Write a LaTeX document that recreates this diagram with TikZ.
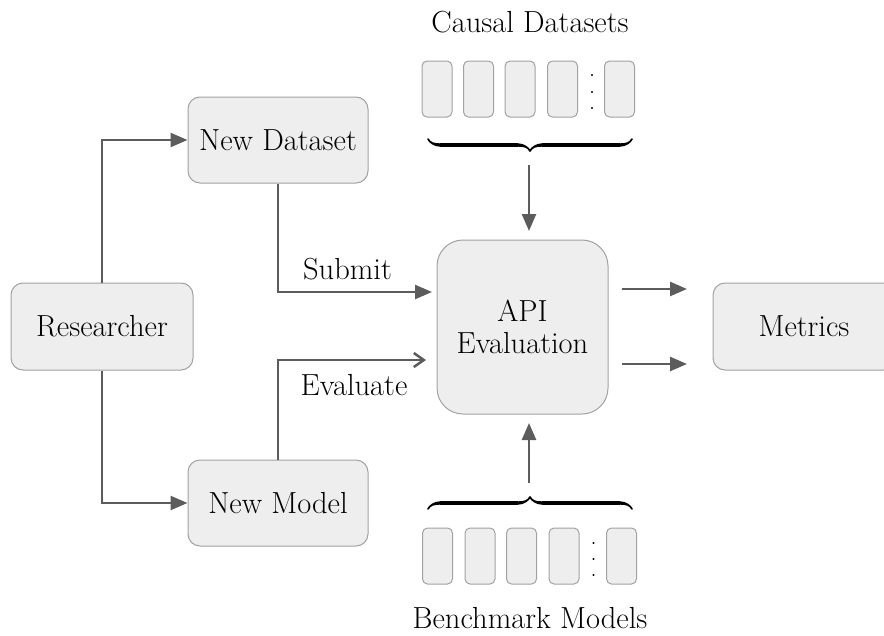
\documentclass[tikz,border=0pt]{standalone}
\usepackage{fontspec}
\usetikzlibrary{arrows.meta,decorations.pathreplacing,calligraphy}
\definecolor{boxfill}{HTML}{EEEEEE}
\definecolor{boxline}{HTML}{A2A2A2}
\definecolor{arrcol}{HTML}{5C5C5C}
\begin{document}
\begin{tikzpicture}[x=1pt,y=-1pt,
  box/.style={draw=boxline, fill=boxfill, line width=1pt, rounded corners=12pt, font=\fontsize{30.5}{35}\selectfont, inner sep=0pt},
  small/.style={draw=boxline, fill=boxfill, line width=1pt, rounded corners=5pt, minimum width=30pt, minimum height=56pt, inner sep=0pt},
  lbl/.style={font=\fontsize{30.5}{35}\selectfont, inner sep=0pt},
  arr/.style={draw=arrcol, line width=2.5pt, -{Triangle[length=17pt,width=14pt]}},
  openarr/.style={draw=arrcol, line width=2.5pt, -{Straight Barb[length=10pt,width=14pt,line width=2.5pt]}},
  brc/.style={decorate, decoration={calligraphic brace, amplitude=12pt}, line width=3.4pt},
  dot/.style={circle, fill=black, inner sep=0pt, minimum size=2.4pt}]
\useasboundingbox (0,0) rectangle (884,635);
% main boxes
\node[box, minimum width=182pt, minimum height=87pt] (res) at (102,326.5) {Researcher};
\node[box, minimum width=180pt, minimum height=86pt] (nd) at (278,140) {New Dataset};
\node[box, minimum width=180pt, minimum height=86pt] (nm) at (278,503) {New Model};
\node[box, rounded corners=26pt, minimum width=171pt, minimum height=174pt, align=center] (api) at (522.5,327) {API\\[-3pt]Evaluation};
\begin{scope}
\clip (0,0) rectangle (884,635);
\node[box, minimum width=182pt, minimum height=87pt] (met) at (804,326.5) {Metrics};
\end{scope}
% top datasets
\node[lbl] (cd) at (530,22) {Causal Datasets};
\node[small] (c1) at (437,89) {};
\node[small] (c2) at (478.5,89) {};
\node[small] (c3) at (520,89) {};
\node[small] (c4) at (562.5,89) {};
\node[small] (c5) at (619.5,89) {};
\node[dot] (cd1) at (592,75) {};
\node[dot] (cd2) at (592,92) {};
\node[dot] (cd3) at (592,108) {};
\coordinate (tb1) at (428,139);
\coordinate (tb2) at (632,139);
\draw[brc] (tb2) -- (tb1);
% bottom models
\node[lbl] (bm) at (530,618) {Benchmark Models};
\node[small] (m1) at (437.5,556) {};
\node[small] (m2) at (480,556) {};
\node[small] (m3) at (521.5,556) {};
\node[small] (m4) at (564,556) {};
\node[small] (m5) at (621.5,556) {};
\node[dot] (md1) at (593.5,543) {};
\node[dot] (md2) at (593.5,559) {};
\node[dot] (md3) at (593.5,575) {};
\coordinate (bb1) at (428,509);
\coordinate (bb2) at (632,509);
\draw[brc] (bb1) -- (bb2);
% vertical arrows
\coordinate (ta) at (529,165);
\coordinate (ba) at (529,483);
\draw[arr] (ta) -- (ta |- 0,231);
\draw[arr] (ba) -- (ba |- 0,423);
% researcher branches
\draw[arr] (res.north) |- (nd.west);
\draw[arr] (res.south) |- (nm.west);
% submit / evaluate
\coordinate (subend) at (432,292);
\coordinate (evend) at (426,360);
\draw[arr] (nd.south) |- (subend);
\draw[openarr] (nm.north) |- (evend);
\node[lbl] (sub) at (347.5,269) {Submit};
\node[lbl] (ev) at (354,385) {Evaluate};
% outputs
\coordinate (o1s) at (622,289);
\coordinate (o1e) at (687,289);
\coordinate (o2s) at (622,364);
\coordinate (o2e) at (687,364);
\draw[arr] (o1s) -- (o1e);
\draw[arr] (o2s) -- (o2e);
\end{tikzpicture}
\end{document}
